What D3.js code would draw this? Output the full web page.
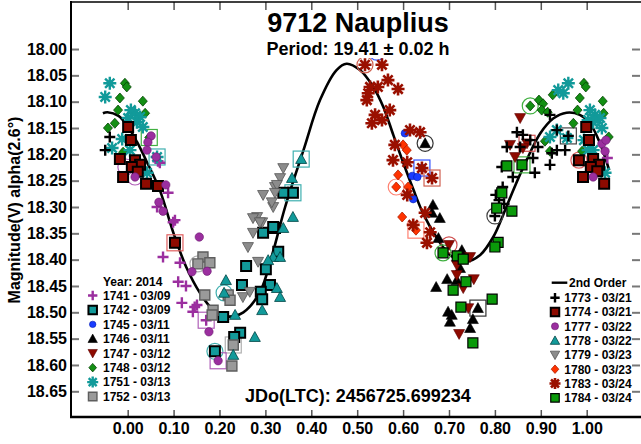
<!DOCTYPE html>
<html><head><meta charset="utf-8">
<script src="https://cdn.jsdelivr.net/npm/d3@7"></script>
<style>
html,body{margin:0;padding:0;background:#fff;}
svg{display:block;font-family:"Liberation Sans",Arial,sans-serif;font-weight:bold;}
</style></head>
<body><svg id="c" width="641" height="444"></svg>
<script>
// ---------- data ----------
const phaseTicks = [0.0,0.1,0.2,0.3,0.4,0.5,0.6,0.7,0.8,0.9,1.0];
const magTicks = [18.00,18.05,18.10,18.15,18.20,18.25,18.30,18.35,18.40,18.45,18.50,18.55,18.60,18.65];
const titleText = "9712 Nauplius";
const periodText = "Period: 19.41 \u00b1 0.02 h";
const jdText = "JDo(LTC): 2456725.699234";
const yTitle = "Magnitude(V) alpha(2.6\u00b0)";
const yearLabel = "Year: 2014";
const fitLabel = "2nd Order";

const fitPhase = [-0.054,-0.044,-0.02,0.001,0.02,0.041,0.07,0.10,0.128,0.158,0.187,0.216,0.252,0.288,0.315,0.343,0.383,0.419,0.455,0.477,0.506,0.535,0.557,0.579,0.600,0.622,0.644,0.673,0.702,0.735,0.768,0.797,0.818,0.840,0.869,0.899,0.927,0.956,0.985,1.007,1.029,1.049];
const fitMag = [18.122,18.120,18.127,18.148,18.176,18.213,18.268,18.350,18.415,18.464,18.496,18.508,18.500,18.462,18.390,18.300,18.192,18.097,18.040,18.028,18.040,18.072,18.110,18.164,18.215,18.266,18.313,18.358,18.391,18.404,18.391,18.356,18.315,18.268,18.211,18.160,18.132,18.121,18.125,18.141,18.179,18.230];

const leftSessions = ["1741","1742","1745","1746","1747","1748","1751","1752"];
const leftDates = ["03/09","03/09","03/11","03/11","03/12","03/12","03/13","03/13"];
const rightSessions = ["1773","1774","1777","1778","1779","1780","1783","1784"];
const rightDates = ["03/21","03/21","03/22","03/22","03/23","03/23","03/24","03/24"];

const s1741 = [[0.066,18.213],[0.070,18.216],[0.088,18.273],[0.103,18.325],[0.099,18.329],[0.064,18.300],[0.077,18.395],[0.114,18.406],[0.110,18.442],[0.127,18.450],[0.118,18.482],[0.151,18.486],[0.142,18.499],[0.146,18.490],[0.171,18.515],[1.045,18.207]];
const s1742 = [[0.295,18.349],[0.321,18.340],[0.328,18.385],[0.258,18.412],[0.301,18.418],[0.249,18.448],[0.310,18.448],[0.290,18.461],[0.293,18.475],[0.208,18.509],[0.245,18.539],[0.232,18.547],[0.190,18.574],[0.360,18.273],[0.317,18.338],[0.339,18.273]];
const s1745 = [[0.543,18.006],[0.604,18.160],[0.620,18.241],[0.631,18.243],[0.622,18.285],[0.641,18.226]];
const s1746 = [[0.648,18.179],[0.665,18.296],[0.680,18.321],[0.663,18.311],[0.677,18.359],[0.728,18.382],[0.720,18.397],[0.724,18.416],[0.717,18.439],[0.696,18.437],[0.672,18.452],[0.698,18.499],[0.706,18.505],[0.702,18.518],[0.763,18.492],[0.752,18.513],[0.746,18.530]];
const s1747 = [[0.700,18.372],[0.746,18.395],[0.717,18.410],[0.717,18.429],[0.754,18.437],[0.731,18.454],[0.742,18.492],[0.722,18.541],[0.855,18.131],[0.833,18.182],[0.870,18.179],[0.844,18.205],[0.861,18.188]];
const s1748 = [[-0.006,18.065],[-0.002,18.072],[-0.017,18.093],[0.033,18.099],[-0.021,18.116],[0.038,18.122],[-0.028,18.141],[-0.043,18.150],[-0.010,18.196],[0.047,18.168],[0.896,18.097],[0.905,18.104],[0.877,18.108],[0.926,18.087],[0.902,18.116],[0.915,18.120],[0.994,18.065],[0.998,18.072],[0.985,18.093],[1.035,18.099],[0.980,18.116],[1.037,18.122],[1.048,18.167],[0.971,18.141],[0.909,18.175],[0.920,18.194],[0.990,18.194]];
const s1751 = [[-0.039,18.065],[-0.049,18.091],[0.016,18.122],[0.007,18.116],[0.027,18.129],[0.001,18.131],[0.020,18.139],[-0.012,18.171],[-0.034,18.188],[0.005,18.192],[0.033,18.148],[0.064,18.205],[0.042,18.235],[0.960,18.065],[0.949,18.084],[0.938,18.078],[1.018,18.125],[1.007,18.116],[1.029,18.131],[1.014,18.139],[1.003,18.135],[1.033,18.150],[0.957,18.169],[0.920,18.167],[0.935,18.154],[0.994,18.173],[1.014,18.192],[1.040,18.235],[1.003,18.192]];
const s1752 = [[0.164,18.395],[0.179,18.406],[0.153,18.408],[0.168,18.467],[0.186,18.496],[0.184,18.505],[0.219,18.467],[0.223,18.477],[0.230,18.562],[0.227,18.602]];
const s1773 = [[-0.039,18.167],[-0.049,18.192],[0.848,18.158],[0.861,18.163],[0.826,18.186],[0.855,18.186],[0.877,18.173],[0.894,18.186],[0.883,18.207],[0.815,18.224],[0.887,18.235],[0.920,18.220],[0.839,18.243],[0.817,18.262],[0.802,18.277],[0.809,18.287],[0.820,18.294],[0.800,18.317],[0.920,18.125],[0.935,18.154],[0.960,18.165],[0.953,18.192],[0.924,18.198],[0.935,18.192]];
const s1774 = [[0.001,18.148],[0.007,18.173],[-0.017,18.209],[0.016,18.211],[0.027,18.220],[0.009,18.224],[-0.010,18.243],[0.022,18.233],[0.040,18.256],[0.066,18.260],[0.103,18.368],[0.999,18.148],[1.005,18.173],[1.014,18.209],[1.027,18.220],[1.009,18.224],[1.023,18.232],[0.992,18.243],[1.038,18.256],[0.983,18.211]];
const s1777 = [[0.051,18.165],[0.044,18.177],[0.042,18.192],[0.062,18.205],[0.016,18.243],[0.083,18.258],[0.068,18.291],[0.077,18.308],[0.156,18.357],[0.173,18.422],[0.140,18.423],[0.177,18.537],[0.197,18.592],[1.033,18.180],[1.042,18.173],[1.040,18.194],[1.014,18.243]];
const s1778 = [[0.339,18.340],[0.360,18.319],[0.317,18.395],[0.332,18.395],[0.306,18.401],[0.210,18.463],[0.325,18.454],[0.332,18.471],[0.293,18.496],[0.277,18.547],[0.234,18.505],[0.230,18.581],[0.358,18.245],[0.378,18.209],[0.214,18.439]];
const s1779 = [[0.282,18.319],[0.293,18.329],[0.273,18.349],[0.262,18.376],[0.284,18.404],[0.317,18.300],[0.295,18.277],[0.321,18.262],[0.314,18.291],[0.273,18.321],[0.288,18.329],[0.332,18.245],[0.339,18.226],[0.325,18.258],[0.321,18.273],[0.251,18.471],[0.266,18.461]];
const s1780 = [[0.600,18.182],[0.608,18.192],[0.589,18.239],[0.611,18.262],[0.585,18.262],[0.598,18.319],[0.628,18.344]];
const s1783 = [[0.517,18.030],[0.554,18.030],[0.567,18.059],[0.589,18.076],[0.545,18.072],[0.528,18.072],[0.524,18.084],[0.521,18.097],[0.539,18.125],[0.554,18.135],[0.571,18.116],[0.532,18.141],[0.615,18.154],[0.637,18.158],[0.582,18.182],[0.578,18.211],[0.609,18.215],[0.641,18.226],[0.663,18.245],[0.609,18.277],[0.648,18.311],[0.622,18.334],[0.659,18.348],[0.652,18.368]];
const s1784 = [[0.815,18.273],[0.804,18.302],[0.837,18.308],[0.807,18.367],[0.800,18.376],[0.687,18.387],[0.718,18.393],[0.731,18.399],[0.737,18.442],[0.709,18.458],[0.794,18.475],[0.726,18.490],[0.752,18.558],[0.826,18.222],[0.859,18.220]];

const hiCircles = [["1741",-0.004,18.224],["1742",0.190,18.574],["1745",0.543,18.006],["1746",0.648,18.179],["1747",0.700,18.372],["1748",0.877,18.108],["1752",0.153,18.408],["1773",0.800,18.317],["1774",0.983,18.211],["1777",0.016,18.243],["1778",0.210,18.463],["1780",0.585,18.262],["1783",0.517,18.030],["1784",0.687,18.387]];
const hiSquares = [["1741",0.171,18.515],["1742",0.360,18.273],["1745",0.641,18.226],["1746",0.763,18.492],["1747",0.870,18.179],["1748",0.047,18.168],["1751",0.064,18.205],["1752",0.230,18.562],["1773",0.960,18.165],["1774",0.103,18.368],["1777",0.197,18.592],["1778",0.378,18.209],["1780",0.628,18.344],["1783",0.663,18.245],["1784",0.859,18.220]];

// ---------- styles ----------
const dataBy = {"1741":s1741,"1742":s1742,"1745":s1745,"1746":s1746,"1747":s1747,"1748":s1748,"1751":s1751,"1752":s1752,
  "1773":s1773,"1774":s1774,"1777":s1777,"1778":s1778,"1779":s1779,"1780":s1780,"1783":s1783,"1784":s1784};
const style = {
  "1741":{t:"plus",c:"#9b2f9f",s:5.5,w:2.4},
  "1742":{t:"square",c:"#129a9a",o:"#000",ow:2,s:5},
  "1745":{t:"circle",c:"#1a3cff",o:"#0018b0",ow:0.6,s:3.8},
  "1746":{t:"triUp",c:"#000",o:"#000",ow:0.6,s:5.5},
  "1747":{t:"triDown",c:"#8e0a00",o:"#5a0000",ow:0.6,s:5.5},
  "1748":{t:"diamond",c:"#138f13",o:"#064406",ow:0.8,s:5},
  "1751":{t:"aster",c:"#129a9a",s:6.5,w:2.4},
  "1752":{t:"square",c:"#9a9a9a",o:"#5e5e5e",ow:1.4,s:5},
  "1773":{t:"plus",c:"#000",s:5.5,w:2.4},
  "1774":{t:"square",c:"#8e0a00",o:"#000",ow:2,s:5},
  "1777":{t:"circle",c:"#9b2f9f",o:"#6a1a6e",ow:0.6,s:4.2},
  "1778":{t:"triUp",c:"#129a9a",o:"#044",ow:0.8,s:5.5},
  "1779":{t:"triDown",c:"#8c8c8c",o:"#555",ow:0.8,s:5.5},
  "1780":{t:"diamond",c:"#ff3300",o:"#b02000",ow:0.8,s:5},
  "1783":{t:"aster",c:"#9a1000",s:6.5,w:2.6},
  "1784":{t:"square",c:"#0a9a0a",o:"#000",ow:1.2,s:5}
};
const hiColor = {"1741":"#b060b8","1742":"#40b0b0","1745":"#3050ff","1746":"#333","1747":"#d05050","1748":"#40b040",
 "1751":"#40b0b0","1752":"#b0b0b0","1773":"#444","1774":"#e06060","1777":"#b060b8","1778":"#40b0b0","1780":"#ff8070","1783":"#d06050","1784":"#40b040"};

function shapePath(t,s){
  switch(t){
    case "plus": return `M${-s},0H${s}M0,${-s}V${s}`;
    case "square": return `M${-s},${-s}H${s}V${s}H${-s}Z`;
    case "circle": return `M${s},0A${s},${s} 0 1,1 ${-s},0A${s},${s} 0 1,1 ${s},0Z`;
    case "triUp": return `M0,${-s}L${s},${s*0.8}L${-s},${s*0.8}Z`;
    case "triDown": return `M0,${s}L${s},${-s*0.8}L${-s},${-s*0.8}Z`;
    case "diamond": return `M0,${-s}L${s*0.9},0L0,${s}L${-s*0.9},0Z`;
    case "aster": {
      const a = s*0.72;
      return `M${-s},0H${s}M0,${-s}V${s}M${-a},${-a}L${a},${a}M${-a},${a}L${a},${-a}`;
    }
  }
}
function applyStyle(sel, st, scale){
  const s = st.s*(scale||1);
  sel.attr("d", shapePath(st.t, s));
  if(st.t==="plus"||st.t==="aster"){
    sel.attr("fill","none").attr("stroke",st.c).attr("stroke-width",st.w).attr("stroke-linecap","butt");
  } else {
    sel.attr("fill",st.c).attr("stroke",st.o).attr("stroke-width",st.ow).attr("stroke-linejoin","miter");
  }
}

// ---------- chart ----------
const svg = d3.select("#c");
const W=641, H=444;
const x = d3.scaleLinear().domain([-0.1235, 1.1183]).range([71, 641]);
const y = d3.scaleLinear().domain([17.9107, 18.6988]).range([2, 417]);

svg.append("rect").attr("width",W).attr("height",H).attr("fill","#fff");

// axes
const tickCol = "#777";
svg.append("g").attr("transform","translate(71,0)")
  .call(d3.axisLeft(y).tickValues(magTicks).tickSize(-8).tickPadding(4).tickFormat(d3.format(".2f")))
  .call(g=>{g.select(".domain").remove();
    g.selectAll(".tick line").attr("stroke",tickCol).attr("stroke-width",2);
    g.selectAll("text").attr("font-size",16).attr("font-weight","bold").attr("fill","#000")
      .attr("font-family","'Liberation Sans',Arial,sans-serif");});
svg.append("g").attr("transform","translate(640,0)")
  .call(d3.axisRight(y).tickValues(magTicks).tickSize(-8).tickFormat(""))
  .call(g=>{g.select(".domain").remove(); g.selectAll(".tick line").attr("stroke",tickCol).attr("stroke-width",2);});
svg.append("g").attr("transform","translate(0,417)")
  .call(d3.axisBottom(x).tickValues(phaseTicks).tickSize(-7).tickPadding(6).tickFormat(d3.format(".2f")))
  .call(g=>{g.select(".domain").remove();
    g.selectAll(".tick line").attr("stroke","#555").attr("stroke-width",1.5);
    g.selectAll("text").attr("font-size",16).attr("font-weight","bold").attr("fill","#000")
      .attr("font-family","'Liberation Sans',Arial,sans-serif");});
svg.append("g").attr("transform","translate(0,2)")
  .call(d3.axisTop(x).tickValues(phaseTicks).tickSize(-8).tickFormat(""))
  .call(g=>{g.select(".domain").remove(); g.selectAll(".tick line").attr("stroke","#555").attr("stroke-width",1.5);});

// frame
svg.append("line").attr("x1",71).attr("x2",71).attr("y1",1).attr("y2",418).attr("stroke","#000").attr("stroke-width",2);
svg.append("line").attr("x1",70).attr("x2",641).attr("y1",417).attr("y2",417).attr("stroke","#000").attr("stroke-width",2.5);
svg.append("line").attr("x1",70).attr("x2",641).attr("y1",2).attr("y2",2).attr("stroke","#000").attr("stroke-width",1.5);

// fit curve
const fitData = fitPhase.map((p,i)=>[p,fitMag[i]]);
svg.append("path").datum(fitData)
  .attr("d", d3.line().x(d=>x(d[0])).y(d=>y(d[1])).curve(d3.curveCatmullRom.alpha(0.5)))
  .attr("fill","none").attr("stroke","#000").attr("stroke-width",2.6);

// highlight rings
const hl = svg.append("g");
hl.selectAll("circle").data(hiCircles).join("circle")
  .attr("cx",d=>x(d[1])).attr("cy",d=>y(d[2])).attr("r",8)
  .attr("fill","none").attr("stroke",d=>hiColor[d[0]]).attr("stroke-width",1.2);
hl.selectAll("rect").data(hiSquares).join("rect")
  .attr("x",d=>x(d[1])-8).attr("y",d=>y(d[2])-8).attr("width",16).attr("height",16)
  .attr("fill","none").attr("stroke",d=>hiColor[d[0]]).attr("stroke-width",1.2);

// points
const order = leftSessions.concat(rightSessions);
order.forEach(id=>{
  const st = style[id];
  svg.append("g").selectAll("path").data(dataBy[id]).join("path")
    .attr("transform",d=>`translate(${x(d[0])},${y(d[1])})`)
    .each(function(){ applyStyle(d3.select(this), st, 1); });
});

// titles with white background
function boxedText(txt, cx, by, size){
  const g = svg.append("g");
  const r = g.append("rect").attr("fill","#fff");
  const t = g.append("text").attr("x",cx).attr("y",by).attr("text-anchor","middle")
    .attr("font-size",size).attr("font-weight","bold").attr("fill","#000").text(txt);
  const b = t.node().getBBox();
  r.attr("x",b.x-2).attr("y",b.y+2).attr("width",b.width+4).attr("height",b.height-3);
}
boxedText(titleText, 358, 32, 27);
boxedText(periodText, 358, 55, 18);
boxedText(jdText, 358, 402, 18);

svg.append("text").attr("transform","translate(20,210) rotate(-90)").attr("text-anchor","middle")
  .attr("font-size",16).attr("font-weight","bold").text(yTitle);

// left legend
const ll = svg.append("g").attr("font-size",12).attr("font-weight","bold");
ll.append("text").attr("x",103).attr("y",286).text(yearLabel);
leftSessions.forEach((id,i)=>{
  const cy = 295.5 + i*14.43;
  applyStyle(ll.append("path").attr("transform",`translate(92.7,${cy})`), style[id], 0.85);
  ll.append("text").attr("x",103).attr("y",cy+4.4).text(`${id} - ${leftDates[i]}`);
});
// right legend
const rl = svg.append("g").attr("font-size",12).attr("font-weight","bold");
rl.append("line").attr("x1",551.7).attr("x2",567.3).attr("y1",282.7).attr("y2",282.7).attr("stroke","#000").attr("stroke-width",2.4);
rl.append("text").attr("x",569).attr("y",287).text(fitLabel);
rightSessions.forEach((id,i)=>{
  const cy = 297.7 + i*14.3;
  applyStyle(rl.append("path").attr("transform",`translate(555,${cy})`), style[id], 0.85);
  rl.append("text").attr("x",564.3).attr("y",cy+4.4).text(`${id} - ${rightDates[i]}`);
});
</script></body></html>
